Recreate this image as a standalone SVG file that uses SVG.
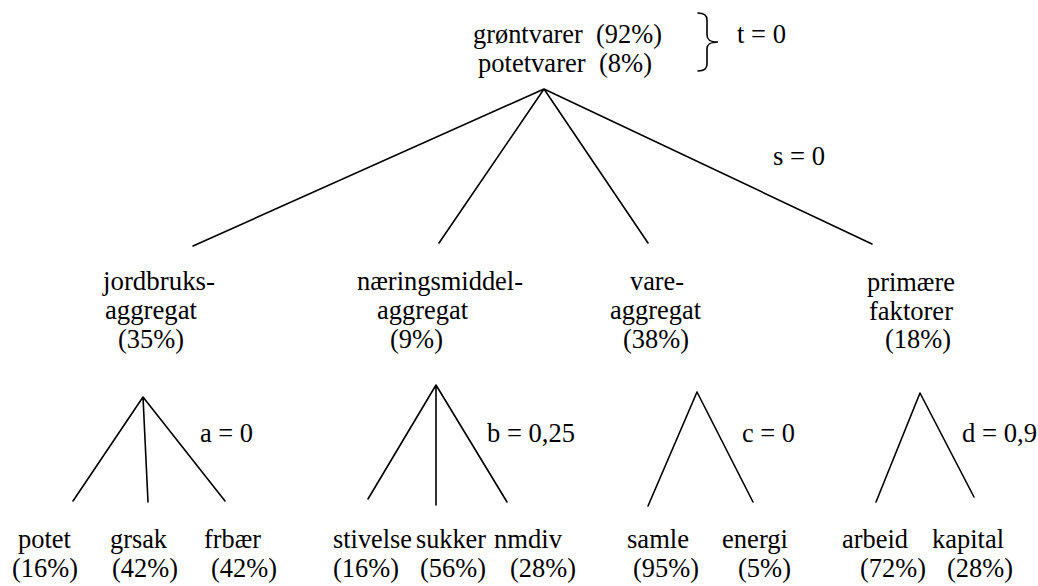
<svg xmlns="http://www.w3.org/2000/svg" width="1038" height="586" viewBox="0 0 1038 586">
<style>
text{font-family:"Liberation Serif","DejaVu Serif","Noto Serif",Georgia,serif;font-size:26.5px;fill:#000}
.ln{stroke:#000;stroke-width:1.6;fill:none;stroke-linecap:round}
</style>
<rect width="1038" height="586" fill="#fff"/>
<g id="connectors" class="ln">
<path d="M544,89 L193,246 M544,89 L439,243 M544,89 L648,243 M544,89 L872,244"/>
<path d="M143,397 L73,501 M143,397 L148,502 M143,397 L225,501"/>
<path d="M436,385 L368,499 M436,385 L436,505 M436,385 L507,502"/>
<path d="M697,392 L648,506 M697,392 L753,502"/>
<path d="M920,393 L876,502 M920,393 L974,497"/>
</g>
<g id="root">
<text x="473" y="43" xml:space="preserve" textLength="189" lengthAdjust="spacingAndGlyphs">grøntvarer  (92%)</text>
<text x="478" y="72" xml:space="preserve" textLength="174" lengthAdjust="spacingAndGlyphs">potetvarer  (8%)</text>
<path class="ln" d="M698,13 C704,13 707,15 707,20 L707,35 C707,40 710,42 718,42 C710,42 707,44 707,49 L707,64 C707,69 704,71 698,71"/>
<text x="737" y="43" textLength="49" lengthAdjust="spacingAndGlyphs">t = 0</text>
</g>
<g id="params">
<text x="773" y="165" textLength="52" lengthAdjust="spacingAndGlyphs">s = 0</text>
<text x="200" y="442" textLength="53" lengthAdjust="spacingAndGlyphs">a = 0</text>
<text x="487" y="442" textLength="88" lengthAdjust="spacingAndGlyphs">b = 0,25</text>
<text x="742" y="442" textLength="53" lengthAdjust="spacingAndGlyphs">c = 0</text>
<text x="962" y="442" textLength="75" lengthAdjust="spacingAndGlyphs">d = 0,9</text>
</g>
<g id="jordbruk">
<text x="103" y="290" textLength="112" lengthAdjust="spacingAndGlyphs">jordbruks-</text>
<text x="105" y="319" textLength="92" lengthAdjust="spacingAndGlyphs">aggregat</text>
<text x="118" y="348" textLength="66" lengthAdjust="spacingAndGlyphs">(35%)</text>
</g>
<g id="naeringsmiddel">
<text x="357" y="290" textLength="166" lengthAdjust="spacingAndGlyphs">næringsmiddel-</text>
<text x="377" y="319" textLength="91" lengthAdjust="spacingAndGlyphs">aggregat</text>
<text x="390" y="348" textLength="53" lengthAdjust="spacingAndGlyphs">(9%)</text>
</g>
<g id="vare">
<text x="630" y="290" textLength="54" lengthAdjust="spacingAndGlyphs">vare-</text>
<text x="610" y="319" textLength="91" lengthAdjust="spacingAndGlyphs">aggregat</text>
<text x="623" y="348" textLength="66" lengthAdjust="spacingAndGlyphs">(38%)</text>
</g>
<g id="primaere">
<text x="867" y="291" textLength="88" lengthAdjust="spacingAndGlyphs">primære</text>
<text x="869" y="320" textLength="84" lengthAdjust="spacingAndGlyphs">faktorer</text>
<text x="885" y="348" textLength="66" lengthAdjust="spacingAndGlyphs">(18%)</text>
</g>
<g id="potet"><text x="18" y="548" textLength="53" lengthAdjust="spacingAndGlyphs">potet</text><text x="12" y="577" textLength="66" lengthAdjust="spacingAndGlyphs">(16%)</text></g>
<g id="grsak"><text x="110" y="548" textLength="57" lengthAdjust="spacingAndGlyphs">grsak</text><text x="112" y="577" textLength="66" lengthAdjust="spacingAndGlyphs">(42%)</text></g>
<g id="frbaer"><text x="204" y="548" textLength="57" lengthAdjust="spacingAndGlyphs">frbær</text><text x="211" y="577" textLength="66" lengthAdjust="spacingAndGlyphs">(42%)</text></g>
<g id="stivelse"><text x="333" y="548" textLength="79" lengthAdjust="spacingAndGlyphs">stivelse</text><text x="333" y="577" textLength="66" lengthAdjust="spacingAndGlyphs">(16%)</text></g>
<g id="sukker"><text x="416" y="548" textLength="70" lengthAdjust="spacingAndGlyphs">sukker</text><text x="420" y="577" textLength="66" lengthAdjust="spacingAndGlyphs">(56%)</text></g>
<g id="nmdiv"><text x="494" y="548" textLength="68" lengthAdjust="spacingAndGlyphs">nmdiv</text><text x="510" y="577" textLength="66" lengthAdjust="spacingAndGlyphs">(28%)</text></g>
<g id="samle"><text x="627" y="548" textLength="62" lengthAdjust="spacingAndGlyphs">samle</text><text x="633" y="577" textLength="66" lengthAdjust="spacingAndGlyphs">(95%)</text></g>
<g id="energi"><text x="722" y="548" textLength="66" lengthAdjust="spacingAndGlyphs">energi</text><text x="738" y="577" textLength="53" lengthAdjust="spacingAndGlyphs">(5%)</text></g>
<g id="arbeid"><text x="842" y="548" textLength="66" lengthAdjust="spacingAndGlyphs">arbeid</text><text x="860" y="577" textLength="66" lengthAdjust="spacingAndGlyphs">(72%)</text></g>
<g id="kapital"><text x="932" y="548" textLength="72" lengthAdjust="spacingAndGlyphs">kapital</text><text x="947" y="577" textLength="66" lengthAdjust="spacingAndGlyphs">(28%)</text></g>
</svg>
